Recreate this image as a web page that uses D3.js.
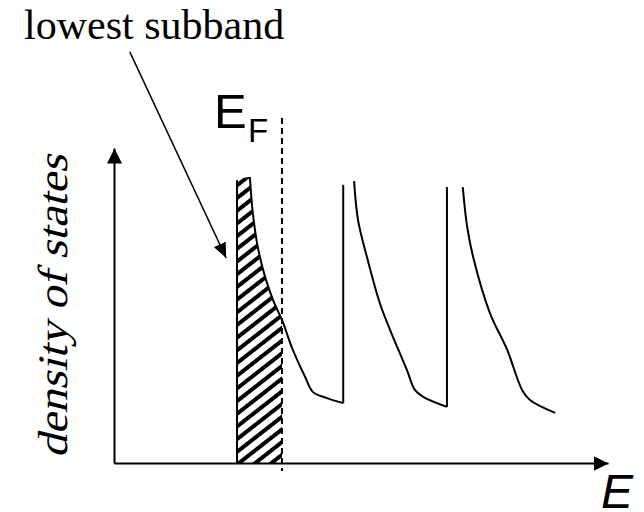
<!DOCTYPE html>
<html>
<head>
<meta charset="utf-8">
<script src="https://cdn.jsdelivr.net/npm/d3@7"></script>
<style>
	html, body { margin: 0; padding: 0; background: #fff; }
	svg { display: block; }
</style>
</head>
<body>
<svg width="644" height="512"></svg>
<script>

// energy and density of states (arbitrary units, 0..100)
const bandEdges = [ 24.9, 46.4, 67.4 ],
	edgeBottoms = [ 0, 19.0, 17.8 ],
	edgeTops = [ 89.8, 88.3, 87.6 ],
	fermiLevel = 34.0,
	fermiSpan = [ -2.5, 109.5 ]

const subband1 = [
	[ 27.5, 90.8 ], [ 28.1, 79.4 ], [ 29.1, 68.6 ], [ 30.6, 59.0 ], [ 32.2, 51.7 ],
	[ 34.0, 45.4 ], [ 36.2, 35.9 ], [ 38.7, 27.3 ], [ 40.3, 22.5 ], [ 43.1, 20.6 ], [ 46.4, 19.0 ]
]
const subband2 = [
	[ 48.6, 89.5 ], [ 49.4, 77.1 ], [ 51.2, 65.4 ], [ 53.8, 50.8 ], [ 55.9, 42.2 ],
	[ 59.3, 29.5 ], [ 60.9, 23.2 ], [ 62.6, 21.0 ], [ 67.4, 17.8 ]
]
const subband3 = [
	[ 70.6, 87.6 ], [ 71.5, 74.9 ], [ 72.7, 65.4 ], [ 76.1, 47.6 ], [ 79.6, 35.9 ],
	[ 82.6, 23.2 ], [ 84.2, 20.0 ], [ 89.3, 15.9 ]
]

// leader from the label to the first subband
const leader = [ [ 3.2, 130.5 ], [ 22.7, 65.1 ] ]

const labels = {
	top: 'lowest subband',
	yAxis: 'density of states',
	xAxis: 'E',
	fermi: 'E',
	fermiSub: 'F'
}

const svg = d3.select( 'svg' ),
	serif = '"Liberation Serif", "DejaVu Serif", serif',
	sans = '"Liberation Sans", Arial, sans-serif',

	x = d3.scaleLinear().domain( [ 0, 100 ] ).range( [ 114, 608 ] ),
	y = d3.scaleLinear().domain( [ 0, 100 ] ).range( [ 463, 148 ] ),

	line = d3.line()
		.x( d => x( d[ 0 ] ) )
		.y( d => y( d[ 1 ] ) )
		.curve( d3.curveCatmullRom.alpha( 0.5 ) )

const defs = svg.append( 'defs' )

defs.append( 'pattern' )
	.attr( 'id', 'hatch' )
	.attr( 'patternUnits', 'userSpaceOnUse' )
	.attr( 'width', 10 )
	.attr( 'height', 10 )
	.attr( 'patternTransform', 'rotate(-38)' )
	.append( 'rect' )
	.attr( 'width', 10 )
	.attr( 'height', 4 )
	.attr( 'fill', '#000' )

defs.append( 'marker' )
	.attr( 'id', 'arrow' )
	.attr( 'markerUnits', 'userSpaceOnUse' )
	.attr( 'viewBox', '0 -8 16 16' )
	.attr( 'refX', 15 )
	.attr( 'refY', 0 )
	.attr( 'markerWidth', 16 )
	.attr( 'markerHeight', 16 )
	.attr( 'orient', 'auto' )
	.append( 'path' )
	.attr( 'd', 'M0,-7.5L15,0L0,7.5Z' )
	.attr( 'fill', '#000' )

defs.append( 'marker' )
	.attr( 'id', 'arrowSmall' )
	.attr( 'markerUnits', 'userSpaceOnUse' )
	.attr( 'viewBox', '0 -7 16 14' )
	.attr( 'refX', 15 )
	.attr( 'refY', 0 )
	.attr( 'markerWidth', 16 )
	.attr( 'markerHeight', 14 )
	.attr( 'orient', 'auto' )
	.append( 'path' )
	.attr( 'd', 'M0,-6.5L15,0L0,6.5Z' )
	.attr( 'fill', '#000' )

// filled states of the lowest subband, up to the Fermi level
const filled = [ [ bandEdges[ 0 ], edgeTops[ 0 ] ] ].concat( subband1.filter( d => d[ 0 ] <= fermiLevel ) )

svg.append( 'path' )
	.datum( filled )
	.attr( 'fill', 'url(#hatch)' )
	.attr( 'd', d3.area()
		.x( d => x( d[ 0 ] ) )
		.y0( y( 0 ) )
		.y1( d => y( d[ 1 ] ) )
		.curve( d3.curveMonotoneX ) )

// axes without ticks, arrow heads on the ends
svg.append( 'g' )
	.attr( 'transform', `translate(0,${ y( 0 ) })` )
	.call( d3.axisBottom( x ).ticks( 0 ).tickSizeOuter( 0 ) )

svg.append( 'g' )
	.attr( 'transform', `translate(${ x( 0 ) },0)` )
	.call( d3.axisLeft( y ).ticks( 0 ).tickSizeOuter( 0 ) )

svg.selectAll( '.domain' )
	.attr( 'stroke', '#000' )
	.attr( 'stroke-width', 2 )
	.attr( 'marker-end', 'url(#arrow)' )

// band edges
svg.append( 'g' )
	.selectAll( 'line' )
	.data( bandEdges )
	.enter()
	.append( 'line' )
	.attr( 'x1', d => x( d ) )
	.attr( 'x2', d => x( d ) )
	.attr( 'y1', ( d, i ) => y( edgeBottoms[ i ] ) )
	.attr( 'y2', ( d, i ) => y( edgeTops[ i ] ) )
	.attr( 'stroke', '#000' )
	.attr( 'stroke-width', 2 )

// subband curves
svg.append( 'g' )
	.selectAll( 'path' )
	.data( [ subband1, subband2, subband3 ] )
	.enter()
	.append( 'path' )
	.attr( 'd', line )
	.attr( 'fill', 'none' )
	.attr( 'stroke', '#000' )
	.attr( 'stroke-width', 2 )

// Fermi level
svg.append( 'line' )
	.attr( 'x1', x( fermiLevel ) )
	.attr( 'x2', x( fermiLevel ) )
	.attr( 'y1', y( fermiSpan[ 1 ] ) )
	.attr( 'y2', y( fermiSpan[ 0 ] ) )
	.attr( 'stroke', '#000' )
	.attr( 'stroke-width', 2 )
	.attr( 'stroke-dasharray', '6,4' )

const fermiText = svg.append( 'text' )
	.attr( 'x', 214 )
	.attr( 'y', 128 )
	.attr( 'font-family', sans )
	.attr( 'font-size', 49 )
	.text( labels.fermi )

fermiText.append( 'tspan' )
	.attr( 'x', 248 )
	.attr( 'y', 142 )
	.attr( 'font-size', 33 )
	.text( labels.fermiSub )

// labels
svg.append( 'text' )
	.attr( 'x', 24 )
	.attr( 'y', 39 )
	.attr( 'font-family', serif )
	.attr( 'font-size', 42 )
	.text( labels.top )

svg.append( 'path' )
	.datum( leader )
	.attr( 'd', d3.line().x( d => x( d[ 0 ] ) ).y( d => y( d[ 1 ] ) ) )
	.attr( 'stroke', '#000' )
	.attr( 'stroke-width', 1.5 )
	.attr( 'marker-end', 'url(#arrowSmall)' )

// serif roman slanted by hand, so it stays serif even without an italic face
svg.append( 'text' )
	.attr( 'transform', 'translate(67,306.5) rotate(-90) skewX(-14)' )
	.attr( 'text-anchor', 'middle' )
	.attr( 'font-family', serif )
	.attr( 'font-size', 42 )
	.attr( 'textLength', 303 )
	.attr( 'lengthAdjust', 'spacingAndGlyphs' )
	.text( labels.yAxis )

svg.append( 'text' )
	.attr( 'x', 601 )
	.attr( 'y', 508 )
	.attr( 'font-family', sans )
	.attr( 'font-style', 'italic' )
	.attr( 'font-size', 48 )
	.text( labels.xAxis )

</script>
</body>
</html>
